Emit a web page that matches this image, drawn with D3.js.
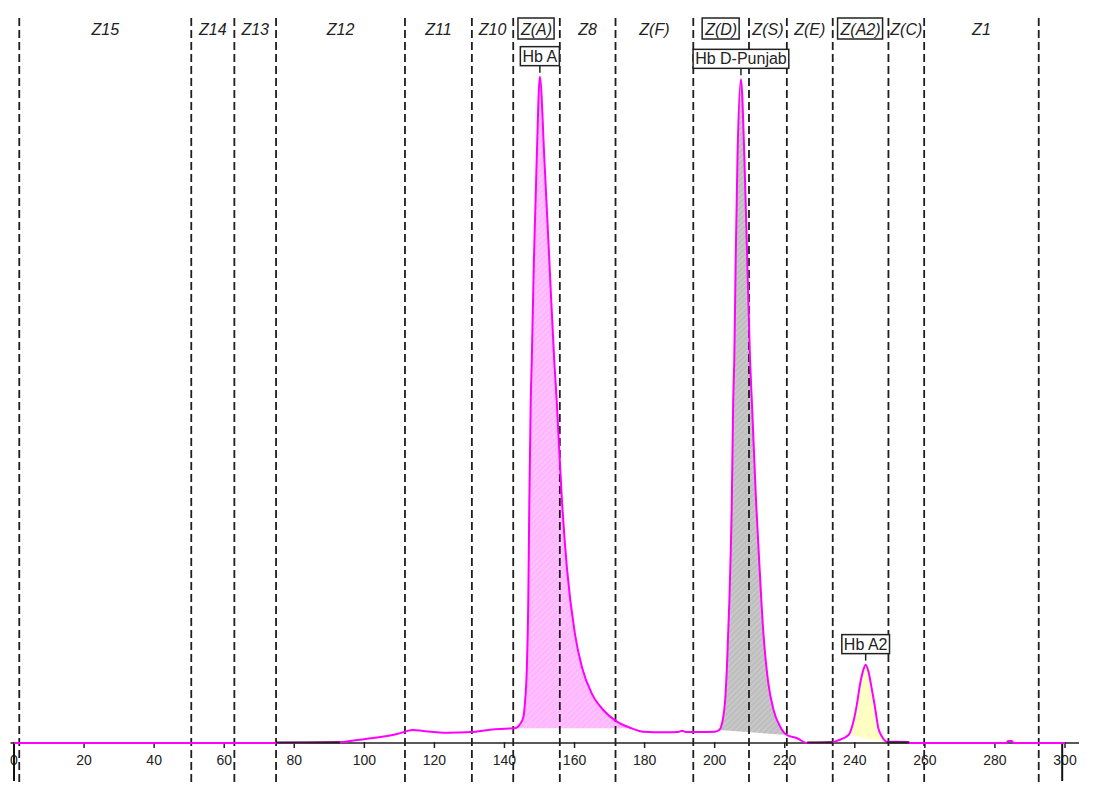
<!DOCTYPE html>
<html>
<head>
<meta charset="utf-8">
<script src="https://cdn.jsdelivr.net/npm/d3@7"></script>
<style>
  body { margin: 0; background: #fff; }
  svg { display: block; font-family: Arial, "Liberation Sans", sans-serif; }
</style>
</head>
<body>
<div id="chart"></div>
<script>
// chromatogram trace (time, % of full scale)
const traceTime = [0, 40, 74.8, 93, 98, 103, 109.3, 111.6, 113.9, 116.8, 123.6, 130.7, 133, 137.3, 140.2,
  143.0, 144.4, 145.4, 145.9, 146.4, 146.8, 147.1, 147.5, 147.8, 148.4, 149.2, 150.1,
  151.4, 152.8, 154.2, 154.9, 156.4, 157.8, 160.1, 162.1, 164.9, 168.2, 172.1, 176.3,
  179.6, 185.8, 189.6, 190.7, 191.8, 195.8, 200.1,
  201.3, 202.3, 203.0, 203.5, 204.2, 204.9, 205.3, 205.6, 206.0, 206.5, 207.5,
  208.5, 209.3, 210.1, 210.6, 211.8, 212.8, 213.9, 215.3, 216.8, 218.7, 220.6, 223.4, 226.4,
  233.8, 235.2, 238.2, 239.6, 240.6, 241.5, 242.3, 243.1, 243.9, 244.8, 245.8, 246.7, 247.7, 249.1,
  255, 255.8, 283.2, 283.8, 284.8, 285.3, 300];
const traceValue = [0, 0, 0, 0.15, 0.45, 0.8, 1.35, 1.7, 1.95, 1.8, 1.55, 1.65, 1.8, 2.05, 2.15,
  2.2, 2.8, 3.9, 6.4, 11.4, 21.4, 36.4, 51.4, 57.4, 72.4, 87.4, 99.9,
  87.4, 72.4, 57.4, 51.4, 36.4, 26.4, 16.4, 11.4, 7.45, 4.95, 3.2, 2.2,
  1.7, 1.6, 1.65, 1.85, 1.65, 1.65, 1.7,
  1.95, 3.45, 6.45, 11.4, 21.4, 36.4, 51.4, 57.4, 72.4, 87.4, 99.5,
  87.4, 72.4, 57.4, 51.4, 36.4, 26.4, 16.5, 9.0, 4.95, 2.45, 1.2, 0.75, 0,
  0.15, 0.4, 1.2, 3.2, 5.8, 8.8, 10.7, 11.75, 10.7, 8.25, 5.25, 2.25, 1.0, 0.2,
  0.15, 0, 0, 0.3, 0.3, 0, 0];

// identified peaks
const peakNames = ["Hb A", "Hb D-Punjab", "Hb A2"];
const peakTimes = [150.1, 207.5, 243.1];
const peakHeights = [99.9, 99.5, 11.75];
const peakStart = [143.0, 201.3, 238.2];
const peakEnd = [176.3, 220.6, 249.1];
const peakFill = ["url(#hatchPink)", "url(#hatchGray)", "#ffffc4"];

// zone windows
const zoneEdges = [1.5, 50.6, 62.9, 74.8, 111.6, 130.7, 142.5, 155.8, 171.7, 193.9, 209.8, 220.6, 233.7, 249.6, 259.8, 292.5];
const zoneNames = ["Z15", "Z14", "Z13", "Z12", "Z11", "Z10", "Z(A)", "Z8", "Z(F)", "Z(D)", "Z(S)", "Z(E)", "Z(A2)", "Z(C)", "Z1"];
const zoneBoxed = ["Z(A)", "Z(D)", "Z(A2)"];

// axis
const tickValues = [0, 20, 40, 60, 80, 100, 120, 140, 160, 180, 200, 220, 240, 260, 280, 300];
const integrationMarks = [0, 299.2];
const baselineSegments = [[74.8, 93], [226.4, 233.8], [249.1, 255.5]];

const width = 1098, height = 800;

const x = d3.scaleLinear().domain([0, 300]).range([14, 1065]);
const y = d3.scaleLinear().domain([0, 100]).range([743, 76]);

const svg = d3.select("#chart").append("svg")
  .attr("width", width)
  .attr("height", height);

// hatch patterns for the integrated peaks
const defs = svg.append("defs");
function hatch(id, base, stripe) {
  const p = defs.append("pattern")
    .attr("id", id)
    .attr("patternUnits", "userSpaceOnUse")
    .attr("width", 4).attr("height", 4)
    .attr("patternTransform", "rotate(45)");
  p.append("rect").attr("width", 4).attr("height", 4).attr("fill", base);
  p.append("line").attr("x1", 0).attr("y1", 0).attr("x2", 0).attr("y2", 4)
    .attr("stroke", stripe).attr("stroke-width", 1.5);
}
hatch("hatchPink", "#ffb6ff", "#ffd4ff");
hatch("hatchGray", "#bfbfbf", "#d3d3d3");

const points = traceTime.map((t, i) => [t, traceValue[i]]);
const line = d3.line()
  .x(d => x(d[0]))
  .y(d => y(d[1]))
  .curve(d3.curveMonotoneX);

// peak fills, closed with a straight baseline
peakNames.forEach((name, i) => {
  const sub = points.filter(d => d[0] >= peakStart[i] && d[0] <= peakEnd[i]);
  svg.append("path")
    .attr("d", line(sub) + "Z")
    .attr("fill", peakFill[i])
    .attr("stroke", "none");
});

// zone boundaries
svg.selectAll(".zone")
  .data(zoneEdges)
  .enter()
  .append("line")
  .attr("class", "zone")
  .attr("x1", d => x(d)).attr("x2", d => x(d))
  .attr("y1", 18).attr("y2", 782)
  .attr("stroke", "#1e1e1e")
  .attr("stroke-width", 1.8)
  .attr("stroke-dasharray", "8,4");

// axis
svg.append("line")
  .attr("x1", x(-1)).attr("x2", x(304))
  .attr("y1", y(0)).attr("y2", y(0))
  .attr("stroke", "#222").attr("stroke-width", 1.5);

svg.selectAll(".tick")
  .data(tickValues)
  .enter()
  .append("line")
  .attr("x1", d => x(d)).attr("x2", d => x(d))
  .attr("y1", y(0) - 1).attr("y2", y(0) + 5)
  .attr("stroke", "#222").attr("stroke-width", 1.5);

svg.selectAll(".tickLabel")
  .data(tickValues)
  .enter()
  .append("text")
  .attr("x", d => x(d))
  .attr("y", 765)
  .attr("text-anchor", "middle")
  .attr("font-size", 14)
  .attr("fill", "#222")
  .text(d => d);

// trace
svg.append("path")
  .attr("d", line(points))
  .attr("fill", "none")
  .attr("stroke", "#ff00ff")
  .attr("stroke-width", 2);

svg.selectAll(".seg")
  .data(baselineSegments)
  .enter()
  .append("line")
  .attr("x1", d => x(d[0])).attr("x2", d => x(d[1]))
  .attr("y1", y(0) - 0.5).attr("y2", y(0) - 0.5)
  .attr("stroke", "#222").attr("stroke-width", 2);

svg.selectAll(".mark")
  .data(integrationMarks)
  .enter()
  .append("line")
  .attr("x1", d => x(d)).attr("x2", d => x(d))
  .attr("y1", y(0) + 1).attr("y2", 781)
  .attr("stroke", "#111").attr("stroke-width", 2);

// zone labels
zoneNames.forEach((name, i) => {
  const cx = (x(zoneEdges[i]) + x(zoneEdges[i + 1])) / 2;
  const t = svg.append("text")
    .attr("x", cx)
    .attr("y", 35)
    .attr("text-anchor", "middle")
    .attr("font-size", 16)
    .attr("font-style", "italic")
    .attr("fill", "#222")
    .text(name);
  if (zoneBoxed.includes(name)) {
    const b = t.node().getBBox();
    svg.append("rect")
      .attr("x", b.x - 2).attr("y", 18)
      .attr("width", b.width + 4).attr("height", 21)
      .attr("fill", "none")
      .attr("stroke", "#222").attr("stroke-width", 1.5);
  }
});

// peak labels
peakNames.forEach((name, i) => {
  const px = x(peakTimes[i]);
  const top = y(peakHeights[i]);
  svg.append("line")
    .attr("x1", px).attr("x2", px)
    .attr("y1", top - 11).attr("y2", top - 4)
    .attr("stroke", "#222").attr("stroke-width", 1.5);
  const g = svg.append("g");
  const rect = g.append("rect");
  const t = g.append("text")
    .attr("x", px)
    .attr("y", top - 15)
    .attr("text-anchor", "middle")
    .attr("font-size", 16)
    .attr("fill", "#222")
    .text(name);
  const b = t.node().getBBox();
  rect.attr("x", px - b.width / 2 - 2).attr("y", top - 30)
    .attr("width", b.width + 4).attr("height", 19)
    .attr("fill", "#fff")
    .attr("stroke", "#222").attr("stroke-width", 1.5);
});
</script>
</body>
</html>
